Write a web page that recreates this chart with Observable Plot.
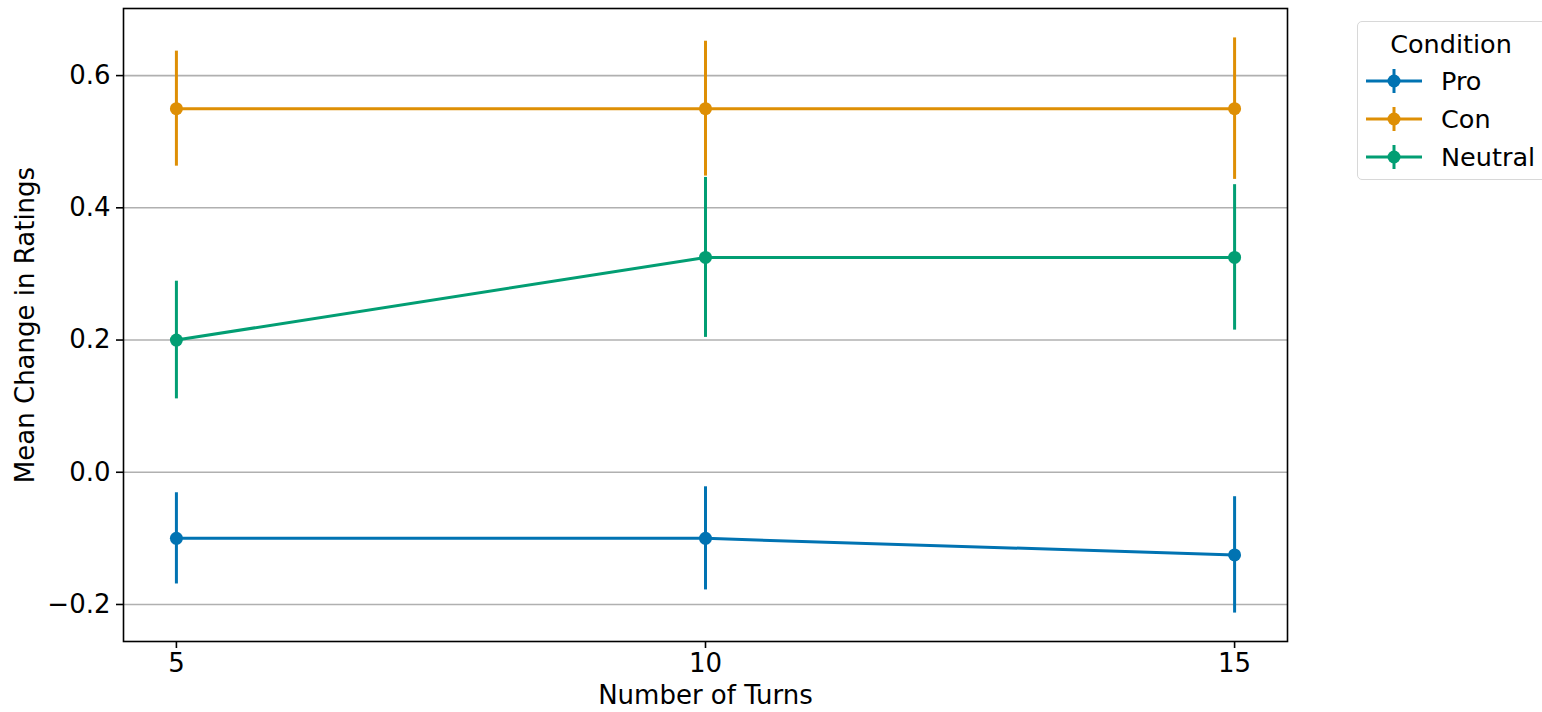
<!DOCTYPE html>
<html>
<head>
<meta charset="utf-8">
<script src="https://cdn.jsdelivr.net/npm/d3@7"></script>
<script src="https://cdn.jsdelivr.net/npm/@observablehq/plot@0.6"></script>
<style>
  html, body { margin: 0; padding: 0; background: #fff; overflow: hidden; }
  #wrap { position: relative; width: 1542px; height: 712px; font-family: "DejaVu Sans", sans-serif; }
  #legend { position: absolute; left: 1357px; top: 21px; width: 200px; height: 159px; box-sizing: border-box;
            border: 1.5px solid #d8d8d8; border-radius: 5px; background: #fff; }
  #legend .title { position: absolute; left: 0; width: 186px; top: 7px; text-align: center; font-size: 25.5px; color: #000; }
  #legend .item { position: absolute; left: 8px; height: 30px; }
  #legend .item span { position: absolute; left: 75px; top: 0; font-size: 25.5px; line-height: 30px; color: #000; white-space: nowrap; }
</style>
</head>
<body>
<div id="wrap"><div id="chart"></div><div id="legend"></div></div>
<script>
// ---- data ----
const turns = [5, 10, 15];
const conditions = ["Pro", "Con", "Neutral"];
const colors = ["#0173b2", "#de8f05", "#029e73"];
const proMean = [-0.10, -0.10, -0.125];
const proErr = [0.069, 0.078, 0.088];
const conMean = [0.55, 0.55, 0.55];
const conErr = [0.087, 0.102, 0.107];
const neutralMean = [0.20, 0.325, 0.325];
const neutralErr = [0.089, 0.121, 0.110];
const yTicks = [-0.2, 0.0, 0.2, 0.4, 0.6];
const xTicks = [5, 10, 15];

const means = [proMean, conMean, neutralMean];
const errs = [proErr, conErr, neutralErr];
const rows = [];
conditions.forEach((c, i) => turns.forEach((t, j) => rows.push({
  condition: c, turns: t, mean: means[i][j], lo: means[i][j] - errs[i][j], hi: means[i][j] + errs[i][j]
})));

const fmt = d => (d < 0 ? "\u2212" : "") + Math.abs(d).toFixed(1);

const seriesMarks = conditions.flatMap((c, i) => {
  const d = rows.filter(r => r.condition === c);
  return [
    Plot.line(d, {x: "turns", y: "mean", stroke: colors[i], strokeWidth: 3}),
    Plot.ruleX(d, {x: "turns", y1: "lo", y2: "hi", stroke: colors[i], strokeWidth: 3}),
    Plot.dot(d, {x: "turns", y: "mean", fill: colors[i], r: 6.5})
  ];
});

const chart = Plot.plot({
  width: 1542,
  height: 712,
  marginLeft: 123,
  marginRight: 255,
  marginTop: 8,
  marginBottom: 71,
  style: {fontFamily: "DejaVu Sans, sans-serif", fontSize: "26px", color: "#000", background: "#fff"},
  x: {domain: [4.5, 15.5]},
  y: {domain: [-0.256, 0.7015]},
  marks: [
    Plot.ruleY(yTicks, {stroke: "#b0b0b0", strokeWidth: 1.6}),
    ...seriesMarks,
    Plot.frame({stroke: "#000", strokeWidth: 1.6}),
    Plot.axisY({ticks: yTicks, tickFormat: fmt, tickSize: 7, tickPadding: 6, strokeWidth: 1.6, fontSize: 26,
      label: "Mean Change in Ratings", labelAnchor: "center", labelArrow: "none", labelOffset: 108}),
    Plot.axisX({ticks: xTicks, tickFormat: d => String(d), tickSize: 7, tickPadding: 5, strokeWidth: 1.6, fontSize: 26,
      label: "Number of Turns", labelAnchor: "center", labelArrow: "none", labelOffset: 62})
  ]
});
document.getElementById("chart").appendChild(chart);

// legend
const leg = document.getElementById("legend");
const title = document.createElement("div");
title.className = "title"; title.textContent = "Condition";
leg.appendChild(title);
conditions.forEach((c, i) => {
  const item = document.createElement("div");
  item.className = "item";
  item.style.top = (44 + i * 38) + "px";
  item.innerHTML = `<svg width="64" height="30" style="position:absolute;left:0;top:0">
    <line x1="0" y1="15" x2="56" y2="15" stroke="${colors[i]}" stroke-width="3"/>
    <line x1="28" y1="3" x2="28" y2="27" stroke="${colors[i]}" stroke-width="3"/>
    <circle cx="28" cy="15" r="6.5" fill="${colors[i]}"/></svg><span>${c}</span>`;
  leg.appendChild(item);
});
</script>
</body>
</html>
